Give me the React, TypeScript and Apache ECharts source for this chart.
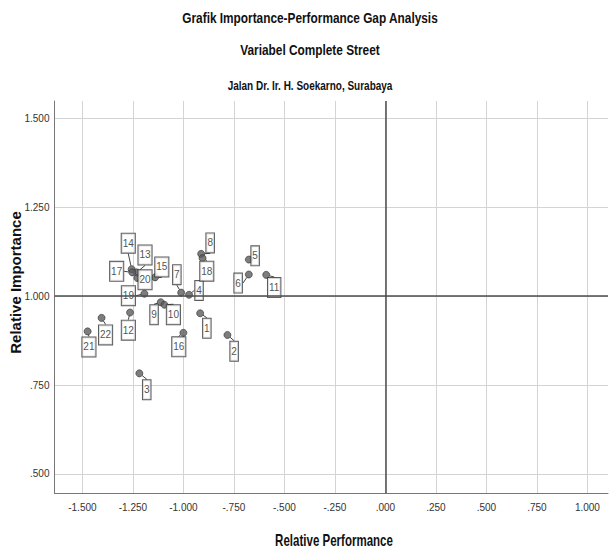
import React, { useEffect, useRef } from "react";
import * as echarts from "echarts";

// ---- data ----
const pointIds = ["1","2","3","4","5","6","7","8","9","10","11","12","13","14","15","16","17","18","19","20","21","22"];
const relativePerformance = [-0.917,-0.782,-1.218,-0.972,-0.676,-0.676,-1.011,-0.912,-1.112,-1.094,-0.590,-1.264,-1.231,-1.256,-1.140,-1.000,-1.253,-0.905,-1.193,-1.228,-1.474,-1.405];
const relativeImportance = [0.952,0.891,0.783,1.004,1.103,1.061,1.010,1.119,0.983,0.976,1.060,0.954,1.067,1.076,1.053,0.897,1.067,1.107,1.007,1.051,0.901,0.939];
const xTicks = [-1.5,-1.25,-1.0,-0.75,-0.5,-0.25,0,0.25,0.5,0.75,1.0];
const yTicks = [0.5,0.75,1.0,1.25,1.5];
const xRange = [-1.638, 1.102];
const yRange = [0.4456, 1.549];
const refX = 0;
const refY = 1.0;
const titles = ["Grafik Importance-Performance Gap Analysis", "Variabel Complete Street", "Jalan Dr. Ir. H. Soekarno, Surabaya"];
const xName = "Relative Performance";
const yName = "Relative Importance";

// ---- layout: label nudges (px, relative to each dot) ----
const labelNudges: [number, number][] = [
  [6.7,15],[6.7,16.3],[7.4,16.4],[10,-4.3],[6.3,-3.7],[-10.7,8.6],[-4.3,-18],[9,-11],[-6.7,12.5],[9,10],
  [8,12.7],[-1.7,17.6],[8.3,-17.4],[-3.4,-26],[6.7,-10.4],[-4.6,14],[-15.6,-1],[4.2,13],[-16,2],[7.7,1.7],
  [1.3,15.6],[4,17]
];

const SANS = "'Liberation Sans', Arial, sans-serif";

const fmt = (v: number) => {
  const s = v.toFixed(3);
  return s.replace(/^(-?)0\./, "$1.");
};

const narrowText = (text: string, x: number, y: number, size: number, scale: number, rotation = 0) => ({
  type: "text", x, y, rotation, scaleX: scale, silent: true,
  style: { text, fontFamily: SANS, fontSize: size, fontWeight: "bold", fill: "#111", textAlign: "center", textVerticalAlign: "middle" },
});

export default function App() {
  const ref = useRef<HTMLDivElement>(null);
  useEffect(() => {
    if (!ref.current) return;
    const chart = echarts.init(ref.current, null, { renderer: "svg" });
    const data = pointIds.map((id, i) => ({ name: id, value: [relativePerformance[i], relativeImportance[i]] }));
    chart.setOption({
      animation: false,
      backgroundColor: "#ffffff",
      grid: { left: 54.5, right: 1, top: 101, bottom: 55.7, containLabel: false },
      graphic: [
        narrowText(titles[0], 310, 18, 15, 0.79),
        narrowText(titles[1], 310, 50, 15, 0.79),
        narrowText(titles[2], 310, 85.5, 12.5, 0.8),
        narrowText(xName, 334, 540.5, 16, 0.72),
        { type: "text", x: 15, y: 282.5, rotation: Math.PI / 2, silent: true, style: { text: yName, fontFamily: SANS, fontSize: 15, fontWeight: "bold", fill: "#111", textAlign: "center", textVerticalAlign: "middle" } },
      ],
      xAxis: {
        type: "value", min: xRange[0], max: xRange[1],
        axisLine: { show: true, onZero: false, lineStyle: { color: "#777", width: 1 } },
        axisTick: { show: false, customValues: xTicks },
        axisLabel: { customValues: xTicks, formatter: fmt, fontFamily: SANS, fontSize: 10, color: "#333", margin: 9 },
        splitLine: { show: true, lineStyle: { color: "#d4d4d4", width: 1 } },
      },
      yAxis: {
        type: "value", min: yRange[0], max: yRange[1],
        axisLine: { show: true, onZero: false, lineStyle: { color: "#777", width: 1 } },
        axisTick: { show: false, customValues: yTicks },
        axisLabel: { customValues: yTicks, formatter: fmt, fontFamily: SANS, fontSize: 10, color: "#333", margin: 5 },
        splitLine: { show: true, lineStyle: { color: "#d4d4d4", width: 1 } },
      },
      series: [
        {
          type: "scatter",
          data,
          symbol: "circle",
          symbolSize: 7,
          itemStyle: { color: "#5c5c5c", borderColor: "#333", borderWidth: 0.8 },
          label: {
            show: true, formatter: "{b}", position: "inside",
            fontFamily: SANS, fontSize: 10, lineHeight: 10, color: "#222",
            backgroundColor: "#fff", borderColor: "#333", borderWidth: 1, padding: [5, 1, 4, 1],
            align: "center", verticalAlign: "middle",
          },
          labelLine: { show: true, lineStyle: { color: "#444", width: 1 } },
          labelLayout: (p: any) => {
            const n = labelNudges[p.dataIndex] || [0, 0];
            return { x: p.rect.x + p.rect.width / 2 + n[0], y: p.rect.y + p.rect.height / 2 + n[1], align: "center", verticalAlign: "middle" };
          },
          markLine: {
            silent: true, symbol: "none", label: { show: false },
            lineStyle: { color: "#4d4d4d", width: 1.5, type: "solid" },
            data: [{ xAxis: refX }, { yAxis: refY }],
          },
          z: 3,
        },
      ],
    });
    return () => chart.dispose();
  }, []);
  return <div ref={ref} style={{ position: "fixed", left: 0, top: 0, width: 609, height: 549 }} />;
}
